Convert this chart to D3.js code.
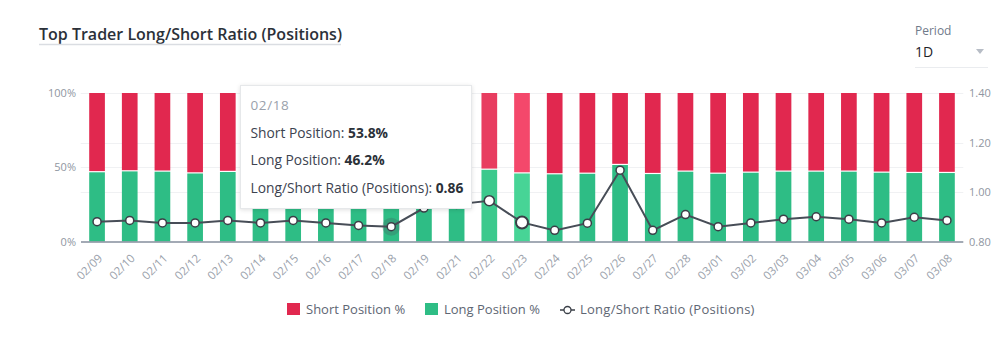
<!DOCTYPE html>
<html><head><meta charset="utf-8">
<script src="https://cdn.jsdelivr.net/npm/d3@7"></script>
<style>
html,body{margin:0;padding:0;background:#fff;}
svg{display:block;font-family:"Open Sans","Noto Sans",sans-serif;}
</style></head>
<body><svg id="c" width="1000" height="347"></svg>
<script>
const dates = ["02/09","02/10","02/11","02/12","02/13","02/14","02/15","02/16","02/17","02/18","02/19","02/21","02/22","02/23","02/24","02/25","02/26","02/27","02/28","03/01","03/02","03/03","03/04","03/05","03/06","03/07","03/08"];
const longPct = [46.6,47.2,47.0,45.8,46.8,46.7,46.9,46.7,46.4,46.2,48.3,48.7,48.3,45.8,45.2,45.6,51.5,45.4,47.0,45.6,46.3,47.0,47.0,47.0,46.3,46.1,46.1];
const ratio = [0.88,0.885,0.875,0.875,0.885,0.875,0.885,0.875,0.865,0.86,0.935,0.95,0.965,0.877,0.845,0.874,1.088,0.845,0.909,0.86,0.875,0.89,0.90,0.89,0.875,0.898,0.885];
const leftTicks = [0,50,100];
const rightTicks = [0.8,1.0,1.2,1.4];
const title = "Top Trader Long/Short Ratio (Positions)";
const legendItems = ["Short Position %","Long Position %","Long/Short Ratio (Positions)"];
const tipDate = "02/18";

const RED="#e1284f", GREEN="#2ebd85";
const svg = d3.select("#c");
const x = d3.scaleBand().domain(dates).range([80.7,963.3]).padding(0);
const bw = x.bandwidth()*0.48, off = (x.bandwidth()-bw)/2;
const yL = d3.scaleLinear().domain([0,100]).range([241.5,93]);
const yR = d3.scaleLinear().domain([0.8,1.4]).range([241.5,93]);

// title
svg.append("text").attr("x",39).attr("y",40).attr("font-size",16).attr("font-weight",600).attr("fill","#2b3139").text(title);
svg.append("line").attr("x1",39).attr("x2",341).attr("y1",44.5).attr("y2",44.5).attr("stroke","#dadde2").attr("stroke-width",1.5);
// period
svg.append("text").attr("x",915).attr("y",35).attr("font-size",12).attr("fill","#707a8a").text("Period");
svg.append("text").attr("x",915).attr("y",57).attr("font-size",14).attr("fill","#1e2329").text("1D");
svg.append("path").attr("d","M976,49 L984,49 L980,54 Z").attr("fill","#b7bdc6");
svg.append("line").attr("x1",915).attr("x2",988).attr("y1",67.5).attr("y2",67.5).attr("stroke","#eaecef");

// gridlines
const grid = svg.append("g");
grid.selectAll("line.gr").data(rightTicks.slice(1)).join("line")
  .attr("x1",80.7).attr("x2",963.3).attr("y1",d=>Math.round(yR(d))+0.5).attr("y2",d=>Math.round(yR(d))+0.5)
  .attr("stroke","#f0f1f3");
grid.append("line").attr("x1",80.7).attr("x2",963.3).attr("y1",Math.round(yL(50))+0.5).attr("y2",Math.round(yL(50))+0.5).attr("stroke","#f0f1f3");

// bars
const data = dates.map((d,i)=>({d,i,L:longPct[i],S:100-longPct[i],r:ratio[i]}));
function barColors(d){
  if(d.d==="02/22") return ["#e83d60","#3cc98d"];
  if(d.d==="02/23") return ["#f4486b","#47d496"];
  return [RED,GREEN];
}
const bars = svg.append("g");
bars.selectAll("rect.s").data(data).join("rect")
  .attr("x",d=>x(d.d)+off).attr("width",bw)
  .attr("y",yL(100)).attr("height",d=>yL(d.L)-yL(100)-1.2)
  .attr("fill",d=>barColors(d)[0]);
bars.selectAll("rect.l").data(data).join("rect")
  .attr("x",d=>x(d.d)+off).attr("width",bw)
  .attr("y",d=>yL(d.L)).attr("height",d=>yL(0)-yL(d.L))
  .attr("fill",d=>barColors(d)[1]);

// baseline
svg.append("line").attr("x1",81).attr("x2",963.3).attr("y1",242).attr("y2",242).attr("stroke","#848e9c").attr("stroke-width",1.5);

// axes
const axL = svg.append("g").attr("transform","translate(81,0)")
  .call(d3.axisLeft(yL).tickValues(leftTicks).tickFormat(d=>d+"%").tickSize(0).tickPadding(5));
axL.select(".domain").remove();
axL.selectAll("text").attr("font-size",11).attr("fill","#8f96a1").attr("font-family","Open Sans");
const axR = svg.append("g").attr("transform","translate(963,0)")
  .call(d3.axisRight(yR).tickValues(rightTicks).tickFormat(d3.format(".2f")).tickSize(0).tickPadding(6));
axR.select(".domain").remove();
axR.selectAll("text").attr("font-size",11).attr("fill","#8f96a1").attr("font-family","Open Sans");

const axB = svg.append("g").attr("transform","translate(0,242)")
  .call(d3.axisBottom(x).tickSize(0).tickPadding(0));
axB.select(".domain").remove();
axB.selectAll("text").attr("font-size",11.5).attr("fill","#9aa1ab").attr("font-family","Open Sans")
  .attr("text-anchor","end").attr("dy",0).attr("y",0)
  .attr("transform","translate(6,17) rotate(-45)");

// line
const cx = d=>x(d.d)+x.bandwidth()/2;
svg.append("path").datum(data).attr("fill","none").attr("stroke","#474d57").attr("stroke-width",2)
  .attr("d",d3.line().x(cx).y(d=>yR(d.r)));
svg.append("circle").attr("cx",cx(data[9])).attr("cy",yR(data[9].r)).attr("r",9).attr("fill","rgba(71,77,87,0.25)");
svg.selectAll("circle.p").data(data).join("circle")
  .attr("cx",cx).attr("cy",d=>yR(d.r))
  .attr("r",d=>d.d==="02/23"?6:(d.d==="02/22"?5:4))
  .attr("fill","#fff").attr("stroke","#3a3f47").attr("stroke-width",d=>d.d==="02/23"?2:1.5);

// tooltip
const tip = data[dates.indexOf(tipDate)];
const defs = svg.append("defs");
const f = defs.append("filter").attr("id","sh").attr("x","-10%").attr("y","-10%").attr("width","120%").attr("height","130%");
f.append("feDropShadow").attr("dx",0).attr("dy",1).attr("stdDeviation",2).attr("flood-color","#000").attr("flood-opacity",0.12);
const tg = svg.append("g").attr("transform","translate(240.5,85.5)");
tg.append("rect").attr("width",231).attr("height",123).attr("fill","#fff").attr("stroke","#e6e8ea").attr("filter","url(#sh)");
tg.append("text").attr("x",10).attr("y",24).attr("font-size",13.5).attr("fill","#9aa1ab").attr("letter-spacing",0.6).text(tip.d);
const rows = [["Short Position: ",d3.format(".1f")(tip.S)+"%"],["Long Position: ",d3.format(".1f")(tip.L)+"%"],["Long/Short Ratio (Positions): ",d3.format(".2f")(tip.r)]];
rows.forEach((r,i)=>{
  const t = tg.append("text").attr("x",10).attr("y",52+i*27.5).attr("font-size",13.8).attr("fill","#3c4350");
  t.append("tspan").text(r[0]);
  t.append("tspan").attr("font-weight",700).attr("fill","#2b3139").text(r[1]);
});

// legend
const lg = svg.append("g");
lg.append("rect").attr("x",287).attr("y",303).attr("width",13).attr("height",12).attr("fill",RED);
lg.append("text").attr("x",306).attr("y",314).attr("font-size",13).attr("fill","#5e6673").text(legendItems[0]);
lg.append("rect").attr("x",425).attr("y",303).attr("width",13).attr("height",12).attr("fill",GREEN);
lg.append("text").attr("x",444).attr("y",314).attr("font-size",13).attr("fill","#5e6673").text(legendItems[1]);
lg.append("line").attr("x1",560).attr("x2",575).attr("y1",310).attr("y2",310).attr("stroke","#3a3f47").attr("stroke-width",1.5);
lg.append("circle").attr("cx",567.5).attr("cy",310).attr("r",3.5).attr("fill","#fff").attr("stroke","#3a3f47").attr("stroke-width",1.3);
lg.append("text").attr("x",580).attr("y",314).attr("font-size",13).attr("fill","#5e6673").attr("letter-spacing",0.25).text(legendItems[2]);
</script></body></html>
